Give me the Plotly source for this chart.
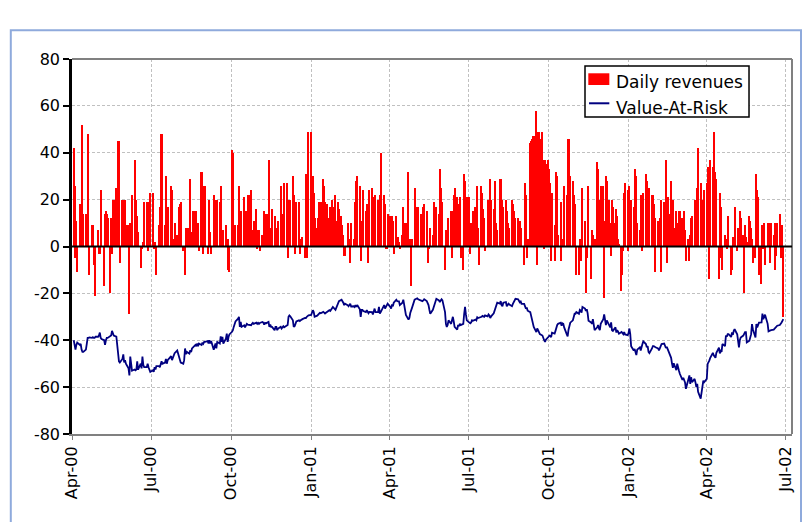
import pandas as pd
import plotly.graph_objects as go

# Daily revenues (one value per trading day), Apr-2000 .. Jun-2002
rev_2000 = [
    42, 26, -5, 11, -11, 18, 18, 12, 52, 14, 14, 13, 14, 48, -12, 9, 9, -8, -21, -21,
    7, -3, -3, 24, 16, -17, 14, 15, 14, 12, -20, 12, -3, 20, 20, 25, 20, 45, 45, -7, 20, 20, 20,
    20, 9, 9, -29, 10, 10, 22, 37, 20, 20, 13, 6, -9, -3, -1, 2, 19, 19, 19, -2, 13, 23,
    23, -1, -1, 2, -12, 9, 17, 17, 48, 48, 9, 30, 17, 3, 17, 26, 24, 3, 3, 10, 5,
    3, 17, 18, 19, -2, -2, -12, 8, 8, 8, 29, 6, 6, 15, 15, 15, 10, 10, -2, 32, 32, -3, 26,
    26, -3, -3, 20, 6, -3, 22, 20, 20, 19, 20, 19, 26, 6, 3, 7, 9, 3, 3, -10, -11,
    41, 40, 3, 3, 9, 9, 26, 9, 15, 15, 21, 10, 15, 15, 22, 22, 24, 7, 7, 11, 16, -1,
    7, 7, -2, 5, 5, 15, 2, 14, 14, 37, 8, 8, 16, 13, 7, 7, 8, 11, 11, 26, 14, 14,
    27, 27, -5, 10, 20, 20, 30, 22, 17, -3, 19, 19, -3, 3, 3, 4, -5, 31, -5, 8, 49,
]
rev_2001 = [
    49, 18, 30, 23, 12, 8, 12, 19, 14, 19, 29, 26, 19, 15, 18, 12, 17, 14, 20, 17, 22, 11, 7,
    19, 16, 13, 9, 5, -4, -4, 10, 3, 3, -7, 10, 3, 1, 19, 28, 30, 26, -6, 11,
    7, 24, 15, 18, 12, -7, 24, 25, 21, 17, 13, 22, 20, 16, 22, 40, 36, 22, 18, -1, -1, 14,
    13, 9, 13, 11, -3, 13, 2, 4, 2, -1, 5, 17, 10, 8, 10, 32, 3, 3, -17, 3, 25,
    25, 17, 2, 17, 14, 10, 7, 17, 18, 15, -7, -7, -1, 8, 5, 19, 8, 6, 17, 14, 33, 25, 22,
    19, -10, 7, 4, 6, 12, 15, -5, 15, 22, 25, 21, 18, 13, 21, -5, -10, 31, 28, 17, 21,
    21, -3, 10, 7, 15, 17, 14, 26, 8, -8, 26, 23, 16, 12, -2, 20, 17, 20, 29, 20, 16, 28,
    20, 10, 7, 29, 26, 29, 20, 17, 20, 15, 5, 10, 8, 20, 18, 15, 12, 10, 12, 9, 11, 8, 3,
    -8, 27, 22, -5, 3, 44, 45, 46, 47, 47, 58, -8, 49, 49, 46, 49, 37, -1, 37, 35,
    37, 33, 27, -6, 23, -6, 9, 32, 30, 5, -6, 19, 3, 3, 26, 22, 20, 46, 46, 30, 28, 22, 18,
    12, -12, -12, 3, 3, -6, 25, 11, -20, -5, 10, 26, -14, 7, 5, 3, 3, 36, 33, 20, 8, 26,
    26, -22, 11, 30, 28, 20, 10, -4, 20, 17, 10, 16, 13, 3, 1, -19, -12, -2, 23, 27, 24,
]
rev_2002 = [
    -2, 26, 9, 20, 17, 13, 33, 30, 10, 7, 22, 19, -2, 23, 31, 28, 17, 14, 25, 22, 22, 18, -11,
    12, 11, 8, 12, 20, -11, 19, 12, 37, -7, 21, 14, 28, 10, 20, 8, 15, 10, 6, 15,
    15, 12, 10, 15, 7, -6, 3, -6, 5, 12, 13, 20, 15, 11, 25, 42, 12, 27, 20, 17, 24,
    27, 34, 31, -14, 37, 34, 49, 25, 32, 29, -14, 23, 17, -5, -10, 5, 3, -1, 6, 13, -12, -10,
    4, 2, 17, -2, 8, 6, 15, 12, 5, -20, 9, 4, 2, 13, 11, 8, 3, -7, -5, 31, 24, 21, -12,
    -16, 9, -1, 10, -8, 10, 3, 10, -7, 10, 5, -10, 10, -4, 10, 14, 4, -5, 9, -30,
]

# Value-At-Risk (one value per trading day)
var_2000 = [
    -40, -42, -44, -42, -41, -42, -41.5, -44, -45, -45, -44, -41.5, -39, -39, -38.8, -39, -38.7, -39, -39, -38.5,
    -38.5, -38, -36.7, -39, -39.5, -40, -42, -40, -39, -39, -38.5, -38, -36, -37, -38, -38.5, -42, -46, -49, -49.5, -48, -46, -49.5,
    -48.5, -50, -52, -55, -47, -51, -53, -52.5, -52.8, -52.5, -49, -52.5, -50, -52, -47, -50.5, -51.5, -51.5, -50, -51.5, -52.8, -53.5,
    -52.8, -53.5, -51.5, -52.5, -51, -51, -51.5, -50, -49, -50, -49.5, -48, -50, -48.5, -48, -46.8, -48.5, -47.5, -46.5, -45.5, -44.4,
    -46, -47.5, -48.5, -49.5, -50, -48.5, -43.5, -46, -45, -45.7, -44.3, -45, -43.5, -43, -42, -42.5, -41.4, -42.5, -41.4, -42, -41, -41.5, -40.7,
    -40.7, -40.4, -41.4, -40, -41.4, -40.3, -44, -42.5, -41.4, -43.5, -40.7, -41.4, -38.3, -40.7, -38.6, -41.4, -39.3, -37.2, -40.7, -38.6, -37.5,
    -36.4, -35.7, -34.3, -33, -32, -30.8, -30, -34.3, -32.2, -34.3, -33.6, -34.5, -34, -33, -33.3, -33.6, -33.6, -33, -32.6, -33, -32.5, -33,
    -32.6, -33, -32.6, -32.2, -32.5, -33.3, -32.6, -32.8, -32.2, -34.3, -33.3, -34.3, -34.3, -35.7, -34.3, -34.3, -35.7, -35, -34.3, -35, -34.5, -34,
    -34.5, -34, -33.5, -30, -29.4, -29.8, -31.5, -34.3, -34, -33, -32, -31.5, -31.8, -31.5, -31, -31, -30.5, -30.5, -30, -29.5, -29.4,
]
var_2001 = [
    -29.2, -28, -27.2, -28, -30, -29.5, -29, -28.5, -28.3, -28.5, -27.9, -28.2, -28.6, -28.3, -28, -27.2, -27.5, -27, -26.5, -25.8, -27, -26.2, -25,
    -24.5, -23.3, -22.7, -23.2, -24, -25, -24.4, -25, -25.5, -25, -24.4, -25.6, -25.5, -25.8, -25, -25.8, -25, -26.8, -30, -27,
    -27, -27.5, -28, -27.2, -28.2, -28.5, -27.9, -28, -29, -27.5, -26.5, -28, -27.9, -25.8, -28.6, -28, -27.2, -25, -26.5, -25.8, -25.4, -24.4,
    -25.8, -26.5, -24.7, -25.5, -24, -22.7, -23.3, -23.2, -23.4, -25, -24, -22.7, -25.5, -28, -29.2, -31.2, -30.5, -28.4, -27.5, -26.2, -22.7,
    -22.5, -22.1, -22.1, -22.5, -22.8, -23, -23.3, -23, -22.5, -23.3, -24, -25, -27, -28.7, -27, -25.8, -24.4, -23.3, -22.3, -23, -23.7, -23, -22.5,
    -23, -28, -33, -34.3, -33.5, -31.5, -33, -31, -30, -32, -34.3, -35.5, -33.5, -34, -33, -33.5, -33, -28.7, -25.8, -29, -31.5,
    -32.5, -32.8, -32.4, -31.5, -31.7, -31.2, -31.5, -30.2, -30.5, -30.4, -30, -29.6, -29.8, -30, -29.4, -29.8, -29, -29.4, -30.5, -29.8, -28.5, -27.2,
    -25.5, -25, -24, -24.4, -23.3, -25, -25.5, -24, -23.7, -25.5, -25, -24.4, -24.8, -25.5, -24.5, -23.7, -23, -22.3, -22.5, -23.3, -23.8, -23.5, -24.5,
    -24.5, -25.5, -26.5, -26, -27.4, -28, -29.5, -31, -32.5, -34.3, -36.5, -35, -35.7, -37.2, -37.4, -38, -39.5, -40, -40.7, -39.8,
    -38.5, -38, -38.2, -38.7, -36.8, -37.2, -36, -34.5, -33.5, -33, -32.5, -33.8, -32.8, -33, -34.5, -37.5, -38.3, -35.5, -33, -32.5, -31.5, -29.5, -28.7,
    -28.7, -28, -28.7, -27, -27.3, -28.2, -25.8, -26.5, -27.5, -26.8, -28.5, -31.7, -32.4, -33, -31, -34, -35.7, -34.5, -33.5, -35, -35.7, -33,
    -31, -29, -32.8, -33.5, -31.5, -33.8, -34.5, -32.4, -35.7, -36, -34.5, -36.7, -35.7, -36.3, -37.2, -36.5, -37.1, -37.4, -36.5, -37.5, -37.8,
]
var_2002 = [
    -37, -35, -37.4, -42.5, -44.4, -43.7, -45, -46.3, -44, -43, -44.4, -42.5, -41.6, -40.5, -41.6, -43, -42.5, -45, -45.5, -43.5, -42.5, -42.5, -43,
    -43, -43.5, -44.3, -43.5, -42.3, -41.6, -41.4, -42.5, -43.3, -42.8, -43.8, -46.2, -47.5, -50, -51.8, -49.8, -52.8, -50, -52.5, -53,
    -54.3, -56.9, -56, -57.3, -58, -60.7, -56.5, -55, -58.6, -55.8, -57.9, -56.5, -58, -60, -58.6, -62, -64.9, -61.4, -58.3, -57.2, -57.9,
    -56.5, -50.1, -48.8, -48.6, -47.5, -45.4, -46.4, -47.2, -47.5, -45.4, -43.2, -45.6, -44.6, -45, -41.6, -42.5, -38, -38.5, -37.4, -37.4, -38.6, -36.7,
    -37.7, -36, -35.3, -37.5, -39.5, -43, -40, -38.8, -38, -37, -36.5, -36.5, -40.9, -40.2, -38, -37.4, -33.1, -35.3, -38.8, -33.1, -34.5, -33.1, -32.5,
    -32.4, -28.6, -31, -30.2, -29.1, -33, -36.2, -36, -36, -35.7, -35.5, -35, -34.5, -34.5, -33.8, -33.5, -33.1, -32.4, -31.7, -31,
]

series_names = ["Daily revenues", "Value-At-Risk"]
y_ticks = [-80, -60, -40, -20, 0, 20, 40, 60, 80]
start_day = "2000-04-03"

rev = rev_2000 + rev_2001 + rev_2002
var = var_2000 + var_2001 + var_2002
rev_dates = pd.bdate_range(start_day, periods=len(rev))
var_dates = pd.bdate_range(start_day, periods=len(var))

FONT = "DejaVu Sans"
BAR_RED = "#ff0000"
VAR_BLUE = "#000080"

fig = go.Figure()
fig.add_trace(go.Bar(
    x=rev_dates, y=rev, name=series_names[0],
    marker=dict(color=BAR_RED, line=dict(width=0)),
    width=86400000 * 1.4, showlegend=False,
))
fig.add_trace(go.Scatter(
    x=var_dates, y=var, name=series_names[1], mode="lines",
    line=dict(color=VAR_BLUE, width=1.8), showlegend=False,
))

# legend drawn as a framed box (paper coordinates)
LX0, LX1, LY0, LY1 = 0.7125, 0.9403, 0.8453, 0.9813
legend_shapes = [
    dict(type="rect", xref="paper", yref="paper", x0=LX0, x1=LX1, y0=LY0, y1=LY1,
         line=dict(color="black", width=1.5), fillcolor="white", layer="above"),
    dict(type="rect", xref="paper", yref="paper", x0=0.7171, x1=0.7463, y0=0.9307, y1=0.9619,
         line=dict(color=BAR_RED, width=0), fillcolor=BAR_RED, layer="above"),
    dict(type="line", xref="paper", yref="paper", x0=0.7181, x1=0.7463, y0=0.8819, y1=0.8819,
         line=dict(color=VAR_BLUE, width=2), layer="above"),
]
legend_texts = [
    dict(xref="paper", yref="paper", x=0.7530, y=0.9387, xanchor="left", yanchor="middle",
         text=series_names[0], showarrow=False, font=dict(family=FONT, size=17, color="black")),
    dict(xref="paper", yref="paper", x=0.7530, y=0.8693, xanchor="left", yanchor="middle",
         text=series_names[1], showarrow=False, font=dict(family=FONT, size=17, color="black")),
]

fig.update_layout(
    width=804, height=514,
    margin=dict(l=64, r=20, t=51, b=88),
    paper_bgcolor="white", plot_bgcolor="white",
    font=dict(family=FONT, size=16, color="black"),
    bargap=0,
    showlegend=False,
    xaxis=dict(
        type="date",
        range=["2000-04-01", "2002-07-08"],
        tick0="2000-04-01", dtick="M3", tickformat="%b-%y",
        tickangle=-90,
        showgrid=True, gridcolor="#c0c0c0", griddash="3px,2px", gridwidth=1,
        showline=True, linecolor="#808080", linewidth=2,
        ticks="outside", ticklen=4, tickcolor="#808080",
        tickfont=dict(family=FONT, size=16, color="black"),
        zeroline=False,
    ),
    yaxis=dict(
        range=[-80, 80], tickvals=y_ticks, ticktext=[str(v) for v in y_ticks],
        showgrid=True, gridcolor="#c0c0c0", griddash="3px,2px", gridwidth=1,
        zeroline=False,
        showline=True, linecolor="black", linewidth=2.5,
        ticks="outside", ticklen=6, tickwidth=2, tickcolor="black",
        tickfont=dict(family=FONT, size=16, color="black"),
    ),
    shapes=[
        dict(type="line", xref="paper", yref="paper", x0=0, x1=1, y0=1, y1=1,
             line=dict(color="#808080", width=2)),
        dict(type="line", xref="paper", yref="paper", x0=1, x1=1, y0=0, y1=1,
             line=dict(color="#808080", width=2)),
        dict(type="line", xref="paper", yref="y", x0=0, x1=1, y0=0, y1=0,
             line=dict(color="black", width=2), layer="above"),
        dict(type="rect", xref="paper", yref="paper", x0=-0.085, x1=1.0125, y0=-0.35, y1=1.077,
             line=dict(color="#8faadc", width=2), fillcolor="rgba(0,0,0,0)"),
    ] + legend_shapes,
    annotations=legend_texts,
)

fig.write_html("out.html")
